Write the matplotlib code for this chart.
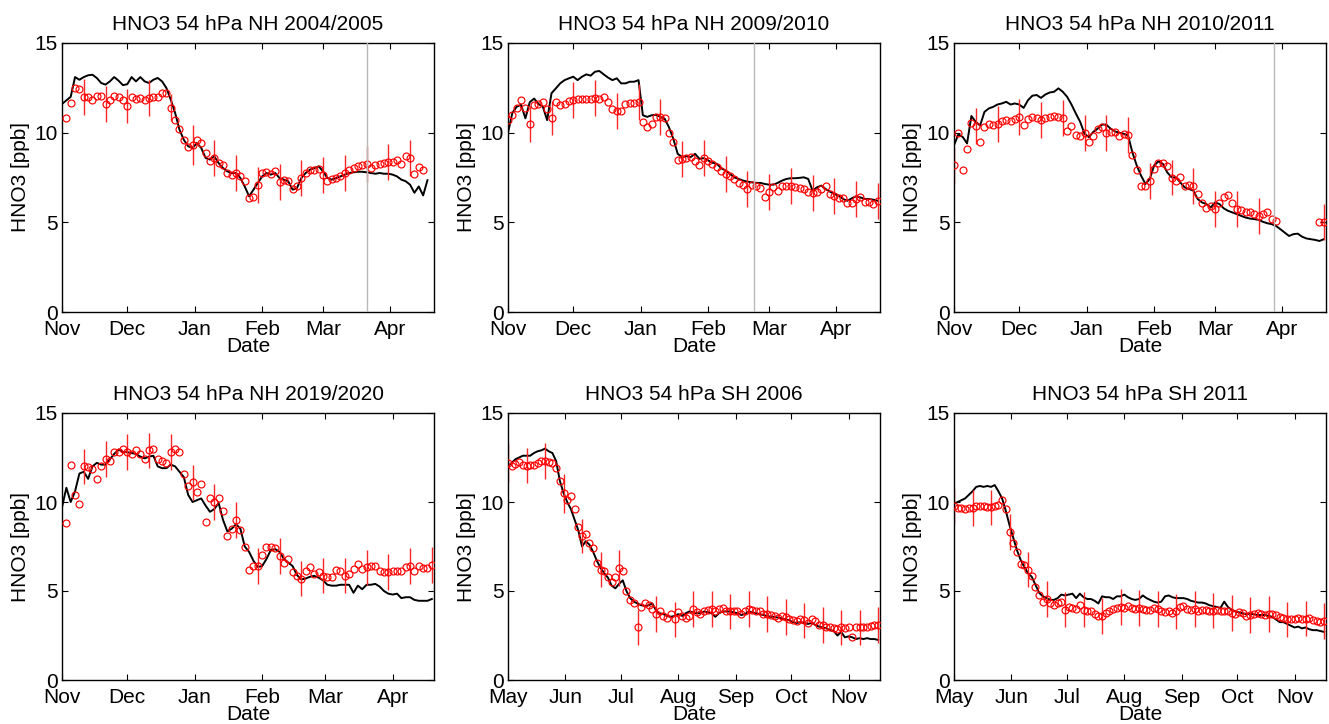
import numpy as np
import matplotlib
matplotlib.use("Agg")
import matplotlib.pyplot as plt
import matplotlib.dates as mdates

plt.rcParams['font.family'] = ['Liberation Sans', 'DejaVu Sans']
nan = np.nan

# values every second day from the first day of the season
# errors: one bar every 10 days, centred on the observation of that day

model_nh0405 = [11.6, 11.8, 12.0, 13.1, 12.95, 13.1, 13.2, 13.23, 13.05, 12.77,
                12.68, 12.86, 13.1, 12.9, 12.65, 12.7, 13.1, 12.86, 13.1, 12.86,
                12.77, 12.95, 13.05, 12.86, 12.49, 11.84, 11.1, 10.17, 9.6, 9.24,
                9.15, 9.42, 9.15, 8.59, 8.5, 8.68, 8.3, 8.03, 7.84, 7.75,
                7.75, 7.47, 7.0, 6.45, 6.82, 7.19, 7.56, 7.75, 7.66, 7.75,
                7.47, 7.38, 7.29, 6.82, 6.91, 7.47, 7.75, 7.94, 8.03, 8.12,
                7.84, 7.47, 7.38, 7.47, 7.56, 7.66, 7.75, 7.79, 7.82, 7.82,
                7.79, 7.75, 7.71, 7.75, 7.71, 7.71, 7.66, 7.56, 7.38, 7.29,
                7.1, 6.65, 7.0, 6.5, 7.35, nan]
obs_nh0405 = [nan, 10.8, 11.65, 12.5, 12.43, 12.0, 12.0, 11.84, 12.03, 12.03,
              11.6, 11.84, 12.03, 12.0, 11.84, 11.5, 12.0, 11.9, 11.93, 11.8,
              11.95, 12.0, 12.0, 12.2, 12.2, 11.38, 10.7, 10.2, 9.6, 9.2,
              9.3, 9.6, 9.42, 8.87, 8.4, 8.59, 8.3, 8.21, 7.75, 7.66,
              7.75, 7.56, 7.29, 6.36, 6.4, 7.1, 7.75, 7.79, 7.71, 7.84,
              7.23, 7.38, 7.29, 6.88, 7.0, 7.47, 7.75, 7.9, 7.94, 7.97,
              7.66, 7.29, 7.42, 7.47, 7.6, 7.75, 7.94, 8.03, 8.16, 8.21,
              8.25, 8.03, 8.21, 8.25, 8.3, 8.35, 8.35, 8.46, 8.27, 8.68,
              8.59, 7.7, 8.1, 7.94, nan, nan]
err_nh0405 = [nan, 1.0, 1.0, 0.95, 1.0, 0.75, 1.1, 1.0, 1.0, 1.0,
              1.0, 1.0, 1.0, 1.0, 1.0, 1.0, 1.0, nan]

model_nh0910 = [10.0, 11.1, 11.45, 11.55, 10.8, 11.7, 11.9, 11.6, 11.45, 10.7,
                12.2, 12.47, 12.75, 12.93, 13.03, 13.12, 12.93, 13.12, 13.25, 13.18,
                13.4, 13.44, 13.25, 13.07, 12.93, 13.03, 12.75, 12.75, 12.84, 12.84,
                12.93, 10.97, 10.88, 10.97, 11.0, 10.88, 10.78, 10.3, 9.66, 8.82,
                8.64, 8.69, 8.64, 8.82, 8.54, 8.58, 8.45, 8.32, 8.26, 8.02,
                7.89, 7.7, 7.51, 7.42, 7.33, 7.27, 7.23, 7.2, 7.2, 7.14,
                7.1, 7.1, 7.2, 7.33, 7.42, 7.46, 7.46, 7.48, 7.51, 7.42,
                6.77, 6.95, 7.05, 6.86, 6.71, 6.58, 6.49, 6.3, 6.2, 6.34,
                6.45, 6.39, 6.3, 6.3, 6.26, 6.2]
obs_nh0910 = [10.7, 11.0, 11.4, 11.8, 11.4, 10.5, 11.55, 11.6, 11.7, 11.3,
              10.8, 11.7, 11.55, 11.6, 11.75, 11.8, 11.85, 11.85, 11.9, 11.85,
              11.95, 11.9, 12.0, 11.7, 11.3, 11.2, 11.2, 11.6, 11.65, 11.65,
              11.7, 10.6, 10.3, 10.5, 10.85, 10.85, 10.8, 10.0, 9.5, 8.5,
              8.55, 8.6, 8.65, 8.4, 8.2, 8.6, 8.4, 8.25, 8.1, 7.85,
              7.7, 7.6, 7.4, 7.2, 7.1, 6.85, 7.1, 7.0, 6.9, 6.4,
              6.7, 6.95, 6.75, 7.0, 7.05, 7.05, 6.95, 6.9, 6.85, 6.7,
              6.65, 6.7, 6.85, 7.0, 6.6, 6.45, 6.35, 6.35, 6.1, 6.1,
              6.3, 6.4, 6.15, 6.15, 6.05, 6.2]
err_nh0910 = [nan, 1.0, 0.95, 1.0, 1.0, 1.0, 1.0, 1.0, 1.0, 1.0,
              1.0, 1.0, 1.0, 1.0, 1.0, 1.0, 1.0, 1.0]

model_nh1011 = [9.3, 9.9, 9.76, 9.4, 10.93, 10.6, 10.4, 11.16, 11.35, 11.44,
                11.57, 11.63, 11.72, 11.57, 11.63, 11.57, 11.38, 11.81, 12.06, 12.1,
                11.94, 12.13, 12.24, 12.28, 12.47, 12.28, 12.0, 11.57, 11.07, 10.6,
                9.94, 9.75, 10.04, 10.22, 10.45, 10.45, 10.22, 10.07, 10.0, 9.94,
                9.85, 8.9, 8.17, 7.6, 7.14, 7.42, 8.17, 8.4, 8.26, 7.79,
                7.51, 7.51, 7.23, 6.95, 6.86, 6.77, 6.3, 6.11, 6.02, 5.83,
                6.11, 6.02, 5.78, 5.64, 5.55, 5.46, 5.36, 5.27, 5.21, 5.18,
                5.14, 5.03, 4.95, 4.9, 4.8, 4.62, 4.43, 4.24, 4.34, 4.37,
                4.2, 4.1, 4.06, 4.02, 3.96, 4.06]
obs_nh1011 = [8.2, 10.0, 7.9, 9.1, 10.55, 10.35, 9.5, 10.3, 10.5, 10.45,
              10.5, 10.65, 10.7, 10.65, 10.75, 10.85, 10.4, 10.75, 10.85, 10.8,
              10.7, 10.8, 10.9, 10.95, 10.85, 10.8, 10.1, 10.35, 9.85, 9.8,
              10.0, 9.5, 9.8, 10.2, 10.3, 10.0, 10.05, 10.05, 9.8, 9.9,
              9.85, 8.75, 7.9, 7.0, 7.0, 7.3, 8.0, 8.3, 8.3, 8.15,
              7.5, 7.3, 7.55, 7.0, 7.1, 7.05, 6.6, 6.1, 5.8, 5.9,
              5.75, 6.1, 6.4, 6.5, 6.1, 5.75, 5.7, 5.55, 5.55, 5.45,
              5.35, 5.45, 5.55, 5.2, 5.05, nan, nan, nan, nan, nan,
              nan, nan, nan, nan, 5.0, 5.0]
err_nh1011 = [1.0, 1.0, 1.0, 1.0, 1.0, 1.0, 1.0, 1.0, 1.0, 1.0,
              1.0, 1.0, 1.0, 1.0, 1.0, nan, nan, 1.0]

model_nh1920 = [9.7, 10.8, 10.0, 10.6, 11.6, 11.7, 11.3, 12.0, 12.2, 12.1,
                12.1, 12.4, 12.7, 12.95, 12.8, 12.8, 12.75, 12.7, 12.55, 12.45,
                12.55, 12.6, 12.0, 11.9, 11.9, 12.1, 12.0, 11.7, 11.4, 10.4,
                10.0, 10.1, 10.2, 9.8, 9.45, 9.6, 9.95, 9.0, 8.35, 8.5,
                8.75, 8.5, 7.5, 7.2, 6.7, 6.35, 6.4, 6.8, 7.3, 7.35,
                7.2, 6.8, 6.6, 6.4, 5.9, 5.65, 5.7, 5.8, 5.85, 5.75,
                5.6, 5.35, 5.3, 5.3, 5.35, 5.35, 5.35, 4.9, 5.3, 5.1,
                5.35, 5.35, 5.4, 5.25, 5.0, 4.85, 4.8, 4.85, 4.6, 4.65,
                4.65, 4.5, 4.45, 4.45, 4.45, 4.55]
obs_nh1920 = [nan, 8.8, 12.1, 10.4, 9.9, 12.0, 11.95, 11.85, 11.3, 12.0,
              12.4, 12.3, 12.8, 12.8, 13.0, 12.8, 12.7, 12.9, 12.7, 12.4,
              12.9, 12.95, 12.4, 12.3, 12.2, 12.8, 13.0, 12.8, 11.6, 10.9,
              11.1, 10.55, 11.0, 8.85, 10.2, 10.0, 10.2, 9.5, 8.1, 8.5,
              9.0, 8.4, 7.45, 6.2, 6.4, 6.4, 7.0, 7.45, 7.5, 7.4,
              6.95, 6.57, 6.8, 6.05, 5.86, 5.7, 6.14, 6.33, 5.95, 6.05,
              5.86, 5.77, 5.77, 6.2, 6.14, 5.86, 5.95, 6.24, 6.5, 6.24,
              6.33, 6.4, 6.42, 6.14, 6.05, 6.08, 6.14, 6.14, 6.14, 6.33,
              6.4, 6.14, 6.42, 6.3, 6.27, 6.46]
err_nh1920 = [nan, 1.0, 1.0, 1.0, 1.0, 1.0, 1.0, 1.0, 1.0, 1.0,
              1.0, 1.0, 1.0, 1.0, 1.0, 1.0, 1.0, 1.0]

model_sh06 = [12.0, 12.2, 12.4, 12.5, 12.6, 12.6, 12.6, 12.75, 12.85, 12.9,
              13.0, 12.85, 12.75, 12.3, 11.2, 10.5, 10.0, 9.6, 9.0, 8.4,
              7.5, 7.8, 7.6, 7.2, 6.7, 6.3, 6.0, 5.75, 5.3, 5.15,
              5.4, 5.6, 5.0, 4.6, 4.4, 4.3, 4.2, 4.15, 4.2, 4.3,
              3.9, 3.75, 3.7, 3.6, 3.55, 3.6, 3.7, 3.6, 3.75, 3.85,
              3.8, 3.75, 3.75, 3.85, 3.8, 3.75, 3.55, 3.75, 3.85, 3.85,
              3.85, 3.8, 3.75, 3.65, 3.7, 3.85, 3.8, 3.75, 3.7, 3.65,
              3.6, 3.55, 3.55, 3.5, 3.45, 3.4, 3.35, 3.25, 3.2, 3.25,
              3.2, 3.15, 3.2, 3.1, 3.0, 2.95, 2.9, 2.8, 2.75, 2.5,
              2.7, 2.4, 2.45, 2.4, 2.3, 2.35, 2.3, 2.35, 2.3, 2.3,
              2.25]
obs_sh06 = [12.2, 12.05, 12.15, 12.25, 12.1, 12.05, 12.1, 12.1, 12.2, 12.3,
            12.3, 12.25, 12.2, 11.9, 11.2, 10.5, 10.1, 10.35, 9.6, 8.6,
            8.1, 8.2, 7.7, 7.4, 6.6, 6.2, 6.1, 5.8, 5.5, 5.8,
            6.3, 6.15, 5.0, 4.5, 4.3, 2.95, 4.1, 4.3, 4.2, 4.0,
            3.7, 3.9, 3.6, 3.5, 3.7, 3.4, 3.8, 3.6, 3.5, 3.6,
            4.0, 3.8, 3.7, 3.9, 3.95, 4.0, 3.85, 4.0, 4.05, 3.9,
            3.85, 3.9, 3.85, 3.7, 3.85, 4.0, 3.95, 3.85, 3.85, 3.7,
            3.7, 3.65, 3.6, 3.5, 3.6, 3.55, 3.45, 3.35, 3.3, 3.4,
            3.35, 3.2, 3.4, 3.3, 3.1, 3.1, 3.0, 2.95, 2.9, 2.85,
            2.95, 2.9, 3.0, 2.4, 2.95, 2.95, 2.95, 3.0, 3.05, 3.1,
            3.1]
err_sh06 = [1.05, 1.0, 1.0, 1.1, 0.95, 1.0, 1.0, 1.0, 1.0, 1.0,
            1.0, 1.0, 1.0, 1.0, 1.0, 1.0, 1.0, 1.0, 1.0, 1.0, 1.0]

model_sh11 = [9.9, 10.0, 10.1, 10.2, 10.4, 10.6, 10.85, 10.9, 10.85, 10.9,
              10.85, 10.95, 10.6, 10.2, 9.5, 8.7, 8.0, 7.3, 6.75, 6.35,
              6.0, 5.8, 5.35, 4.9, 4.7, 4.6, 4.5, 4.5, 4.6, 4.8,
              4.75, 4.8, 4.85, 4.6, 4.85, 4.65, 4.55, 4.55, 4.45, 4.3,
              4.7, 4.65, 4.65, 4.55, 4.7, 4.7, 4.8, 4.65, 4.55, 4.5,
              4.55, 4.75, 4.6, 4.5, 4.4, 4.35, 4.4, 4.7, 4.75, 4.65,
              4.6, 4.6, 4.6, 4.55, 4.45, 4.4, 4.35, 4.35, 4.3, 4.2,
              4.15, 4.1, 4.05, 4.4, 4.1, 3.95, 3.85, 3.8, 3.75, 3.7,
              3.7, 3.7, 3.65, 3.65, 3.65, 3.6, 3.55, 3.4, 3.25, 3.25,
              3.15, 3.05, 2.95, 3.0, 2.9, 2.95, 2.85, 2.8, 2.8, 2.75,
              2.7]
obs_sh11 = [9.75, 9.65, 9.65, 9.6, 9.65, 9.65, 9.75, 9.75, 9.75, 9.7,
            9.7, 9.75, 9.85, 10.1, 9.6, 8.3, 7.7, 7.2, 6.5, 6.45,
            6.2, 5.85, 5.2, 4.75, 4.4, 4.55, 4.3, 4.2, 4.35, 4.4,
            3.95, 4.1, 4.05, 4.0, 4.2, 3.95, 3.9, 3.85, 3.7, 3.6,
            3.6, 3.75, 3.9, 4.0, 4.05, 4.1, 4.05, 4.15, 4.05, 4.0,
            4.05, 4.0, 3.95, 3.95, 4.05, 4.0, 3.9, 3.8, 3.85, 3.75,
            3.85, 4.1, 4.15, 4.0, 3.95, 4.0, 3.9, 3.95, 3.95, 3.9,
            3.9, 3.95, 3.9, 3.85, 3.85, 3.75, 3.7, 3.8, 3.75, 3.6,
            3.65, 3.7, 3.75, 3.7, 3.65, 3.7, 3.7, 3.65, 3.55, 3.5,
            3.4, 3.45, 3.4, 3.5, 3.45, 3.45, 3.5, 3.35, 3.3, 3.25,
            3.3]
err_sh11 = [1.0, 1.0, 1.0, 1.0, 1.0, 1.0, 1.0, 1.0, 1.0, 1.0,
            1.0, 1.0, 1.0, 1.0, 1.0, 1.0, 1.0, 1.0, 1.0, 1.0, 1.0]

titles = ['HNO3 54 hPa NH 2004/2005', 'HNO3 54 hPa NH 2009/2010',
          'HNO3 54 hPa NH 2010/2011', 'HNO3 54 hPa NH 2019/2020',
          'HNO3 54 hPa SH 2006', 'HNO3 54 hPa SH 2011']
starts = ['2004-11-01', '2009-11-01', '2010-11-01',
          '2019-11-01', '2006-05-01', '2011-05-01']
span_days = [171, 171, 171, 171, 201, 201]
gray_dates = ['2005-03-21', '2010-02-22', '2011-03-28', '2020-04-20', None, None]

models = [model_nh0405, model_nh0910, model_nh1011, model_nh1920, model_sh06, model_sh11]
observations = [obs_nh0405, obs_nh0910, obs_nh1011, obs_nh1920, obs_sh06, obs_sh11]
errors = [err_nh0405, err_nh0910, err_nh1011, err_nh1920, err_sh06, err_sh11]

W, H = 1329, 724
fig = plt.figure(figsize=(W / 100, H / 100), dpi=100)
lefts = [62, 508, 954]
rows = [(43, 312), (413, 680)]

for i in range(6):
    r, c = divmod(i, 3)
    top, bot = rows[r]
    ax = fig.add_axes([lefts[c] / W, (H - bot) / H, 372 / W, (bot - top) / H])

    t0 = np.datetime64(starts[i])
    model = np.array(models[i], dtype=float)
    obs = np.array(observations[i], dtype=float)
    err = np.array(errors[i], dtype=float)
    dates = t0 + (np.arange(len(model)) * 2).astype('timedelta64[D]')
    bar_idx = np.arange(len(err)) * 5

    ax.plot(dates, model, color='black', lw=1.4, zorder=2)
    ax.errorbar(dates[bar_idx], obs[bar_idx], yerr=err, fmt='none',
                ecolor=(1, 0.15, 0.15), elinewidth=1.0, capsize=0, zorder=2.5)
    ax.plot(dates, obs, linestyle='none', marker='o', markersize=5.0,
            markerfacecolor='none', markeredgecolor='red', markeredgewidth=0.85, zorder=3)

    if gray_dates[i] is not None:
        ax.axvline(np.datetime64(gray_dates[i]), color='0.72', lw=1.0, zorder=4)

    ax.set_xlim(t0, t0 + np.timedelta64(span_days[i], 'D'))
    ax.set_ylim(0, 15)
    ax.set_yticks([0, 5, 10, 15])
    ax.xaxis.set_major_locator(mdates.MonthLocator())
    ax.xaxis.set_major_formatter(mdates.DateFormatter('%b'))
    ax.tick_params(direction='in', top=True, right=True, length=4, width=0.8,
                   labelsize=15, colors='black')
    ax.tick_params(axis='x', pad=6)
    ax.tick_params(axis='y', pad=3)
    for s in ax.spines.values():
        s.set_linewidth(1.0)

    ax.set_title(titles[i], fontsize=15, pad=9)
    ax.set_xlabel('Date', fontsize=15, labelpad=-2)
    ax.set_ylabel('HNO3 [ppb]', fontsize=15, labelpad=3)

fig.savefig('out.png', dpi=100)
